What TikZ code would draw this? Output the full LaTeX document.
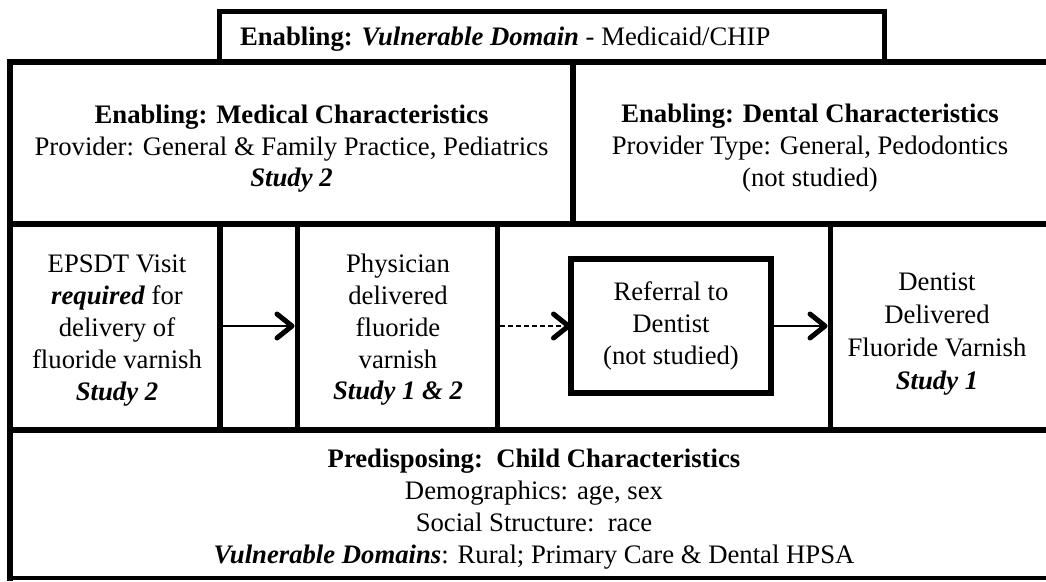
\documentclass[tikz,border=0pt]{standalone}
\usepackage{fontspec}
\setmainfont{Liberation Serif}
\usetikzlibrary{arrows.meta}
\tikzset{
  txt/.style={inner sep=0pt, outer sep=0pt, align=center, font=\fontsize{26.7}{31.8}\selectfont},
  rule/.style={line width=6pt, line cap=rect},
  thinrule/.style={line width=5pt, line cap=rect},
  cell/.style={draw=none, inner sep=0pt, outer sep=0pt, minimum height=200pt},
  refbox/.style={draw, line width=6pt, minimum width=200pt, minimum height=134pt, inner sep=0pt},
  arr/.style={line width=1.8pt, -{Straight Barb[length=15pt,width=24pt,line width=5pt,round]}},
  dasharr/.style={arr, dash pattern=on 5pt off 3pt},
}
\begin{document}
\begin{tikzpicture}[x=1pt, y=-1pt]
\useasboundingbox (0,0) rectangle (1046,581);
% frame
\draw[thinrule] (219,62) -- (219,11) -- (884,11) -- (884,62);
\draw[rule] (10,62) -- (1052,62);
\draw[rule] (10,62) -- (10,578);
\draw[line width=4pt] (8,578) -- (1052,578);
\draw[rule] (10,224) -- (1052,224);
\draw[rule] (10,430) -- (1052,430);
\draw[rule] (573,62) -- (573,224);
\draw[rule] (220,224) -- (220,430);
\draw[thinrule] (297,224) -- (297,430);
\draw[thinrule] (497,224) -- (497,430);
\draw[thinrule] (830,224) -- (830,430);
% cells of the middle row
\node[cell, minimum width=210pt] (epsdtcell) at (118,326) {};
\node[cell, minimum width=205pt] (physcell) at (397,326) {};
\node[cell, minimum width=218.5pt] (dentcell) at (936.75,326) {};
\node[refbox, txt] (ref) at (671,326) {Referral to\\Dentist\\(not studied)};
% texts
\node[txt, anchor=base west] (top) at (240,45) {\textbf{Enabling:} \textbf{\textit{Vulnerable Domain}} - Medicaid/CHIP};
\node[txt] (med) at (291.5,148.7) {\textbf{Enabling: Medical Characteristics}\\Provider: General \& Family Practice, Pediatrics\\\textbf{\textit{Study 2}}};
\node[txt] (dental) at (810,148.2) {\textbf{Enabling: Dental Characteristics}\\Provider Type: General, Pedodontics\\(not studied)};
\node[txt] (epsdt) at (117,330.5) {EPSDT Visit\\\textbf{\textit{required}} for\\delivery of\\fluoride varnish\\\textbf{\textit{Study 2}}};
\node[txt] (phys) at (398,330) {Physician\\delivered\\fluoride\\varnish\\\textbf{\textit{Study 1 \& 2}}};
\node[txt, font=\fontsize{26.7}{33}\selectfont] (dent) at (937,334) {Dentist\\Delivered\\Fluoride Varnish\\\textbf{\textit{Study 1}}};
\node[txt] (pred) at (534,509) {\textbf{Predisposing:\ \ Child Characteristics}\\Demographics: age, sex\\Social Structure:\ \ race\\\textbf{\textit{Vulnerable Domains}}: Rural; Primary Care \& Dental HPSA};
% connectors
\draw[arr] (epsdtcell.east) -- (physcell.west);
\draw[dasharr] (physcell.east) -- (ref.west);
\draw[arr] (ref.east) -- (dentcell.west);
\end{tikzpicture}
\end{document}
